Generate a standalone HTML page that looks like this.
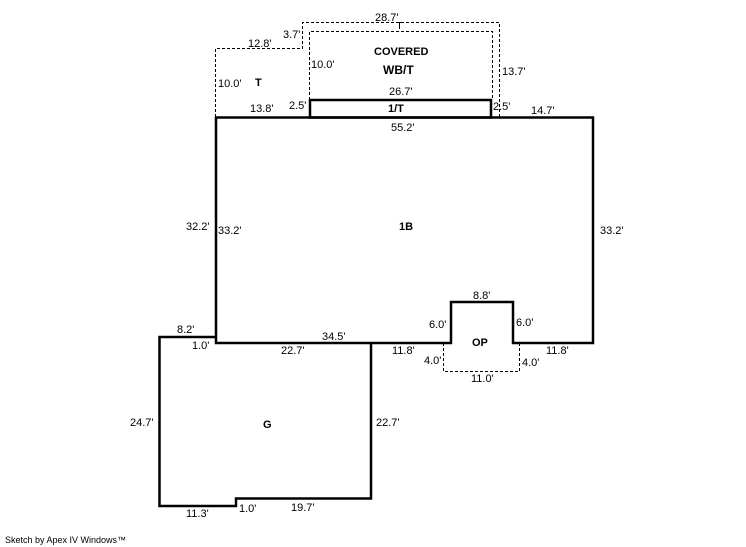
<!DOCTYPE html>
<html><head><meta charset="utf-8"><style>
html,body{margin:0;padding:0;background:#fff;}
svg{display:block;}
text{font-family:"Liberation Sans",Arial,sans-serif;font-size:11px;fill:#000;}
.b{font-weight:bold;}
</style></head><body>
<svg width="746" height="547" viewBox="0 0 746 547" xmlns="http://www.w3.org/2000/svg">
<g fill="none" stroke="#000" stroke-width="1" stroke-dasharray="3,2">
<polyline points="215.5,117 215.5,48.5 302.5,48.5 302.5,22.5 499.5,22.5 499.5,117"/>
<polyline points="309.5,100 309.5,31.5 492.5,31.5 492.5,100"/>
<polyline points="443.5,343 443.5,371.5 519.5,371.5 519.5,343"/>
</g>
<line x1="399.5" y1="22" x2="399.5" y2="29" stroke="#000"/>
<line x1="396" y1="22.5" x2="403" y2="22.5" stroke="#000"/>
<g fill="none" stroke="#000" stroke-width="2.5">
<polygon points="216,117.5 593,117.5 593,343 513,343 513,302 451,302 451,343 216,343"/>
<rect x="310" y="100" width="181" height="17.5"/>
<polyline points="216,337 159.5,337 159.5,506 236,506 236,498.5 371,498.5 371,343"/>
</g>
<text x="375" y="21">28.7'</text>
<text x="283" y="38">3.7'</text>
<text x="248" y="47">12.8'</text>
<text x="374" y="55" class="b">COVERED</text>
<text x="311" y="68">10.0'</text>
<text x="383" y="74" class="b" style="font-size:12px">WB/T</text>
<text x="502" y="75">13.7'</text>
<text x="218" y="87">10.0'</text>
<text x="255" y="86" class="b">T</text>
<text x="389" y="95">26.7'</text>
<text x="250" y="112">13.8'</text>
<text x="289" y="109">2.5'</text>
<text x="388" y="112" class="b">1/T</text>
<text x="493" y="110">2.5'</text>
<text x="531" y="114">14.7'</text>
<text x="391" y="131">55.2'</text>
<text x="186" y="230">32.2'</text>
<text x="218" y="234">33.2'</text>
<text x="399" y="230" class="b">1B</text>
<text x="600" y="234">33.2'</text>
<text x="473" y="299">8.8'</text>
<text x="429" y="328">6.0'</text>
<text x="516" y="326">6.0'</text>
<text x="177" y="333">8.2'</text>
<text x="322" y="340">34.5'</text>
<text x="192" y="349">1.0'</text>
<text x="281" y="354">22.7'</text>
<text x="392" y="354">11.8'</text>
<text x="472" y="346" class="b">OP</text>
<text x="546" y="354">11.8'</text>
<text x="424" y="364">4.0'</text>
<text x="522" y="366">4.0'</text>
<text x="471" y="382">11.0'</text>
<text x="130" y="426">24.7'</text>
<text x="263" y="428" class="b">G</text>
<text x="376" y="426">22.7'</text>
<text x="186" y="517">11.3'</text>
<text x="239" y="512">1.0'</text>
<text x="291" y="511">19.7'</text>
<text x="5" y="543" style="font-size:9px">Sketch by Apex IV Windows™</text>
</svg>
</body></html>
